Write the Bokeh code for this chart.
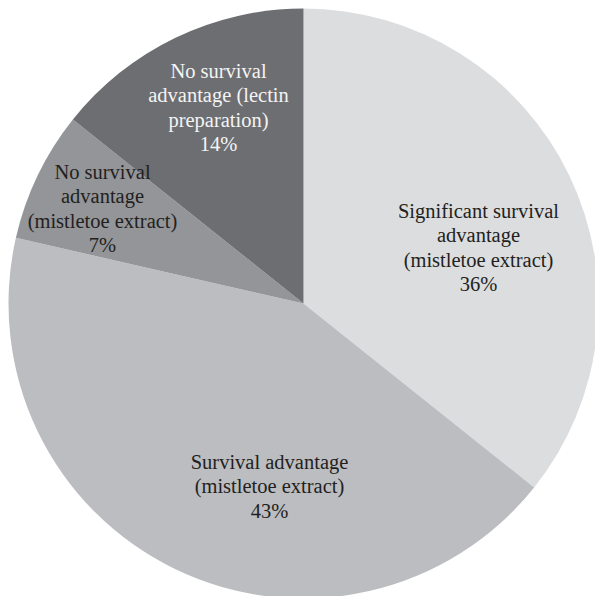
import math
from bokeh.plotting import figure
from bokeh.models import ColumnDataSource, Range1d
from bokeh.core.properties import value
from bokeh.embed import file_html
from bokeh.resources import INLINE

# Data (counts out of 14 studies)
categories = [
    "Significant survival\nadvantage\n(mistletoe extract)",
    "Survival advantage\n(mistletoe extract)",
    "No survival\nadvantage\n(mistletoe extract)",
    "No survival\nadvantage (lectin\npreparation)",
]
counts = [5, 6, 1, 2]
colors = ["#dcdddf", "#bcbdc0", "#939598", "#6d6e71"]
text_colors = ["#231f20", "#231f20", "#231f20", "#f4f4f4"]

# Layout (pixels)
W, H = 595, 596
cx, cy, R = 303, H - 303, 295
label_dx = [175, -34, -201, -85]
label_dy = [56, -183, 95, 196]

total = sum(counts)
starts, ends = [], []
acc = 0
for c in counts:
    a0 = math.pi / 2 - 2 * math.pi * acc / total
    acc += c
    a1 = math.pi / 2 - 2 * math.pi * acc / total
    starts.append(a0)
    ends.append(a1)

pcts = [f"{round(100 * c / total)}%" for c in counts]
labels = [f"{cat}\n{pc}" for cat, pc in zip(categories, pcts)]

src = ColumnDataSource(dict(
    start=starts, end=ends, color=colors,
    lx=[cx + d for d in label_dx], ly=[cy + d for d in label_dy],
    label=labels, tcolor=text_colors,
))

p = figure(width=W, height=H, output_backend="svg", toolbar_location=None,
           x_range=Range1d(0, W), y_range=Range1d(0, H), min_border=0)
p.wedge(x=cx, y=cy, radius=R, start_angle="start", end_angle="end",
        direction="clock", fill_color="color", line_color=None, source=src)
p.text(x="lx", y="ly", text="label", text_color="tcolor", source=src,
       text_align="center", text_baseline="middle",
       text_font=value("Liberation Serif"), text_font_size="20.5px",
       text_line_height=1.12)
p.axis.visible = False
p.grid.visible = False
p.outline_line_color = None
p.background_fill_color = "white"
p.border_fill_color = "white"

open("out.html", "w").write(file_html(p, INLINE))
